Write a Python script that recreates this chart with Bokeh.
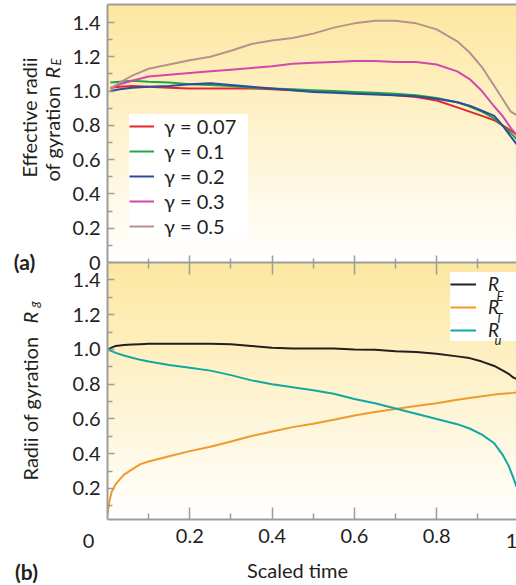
import numpy as np
from bokeh.plotting import figure
from bokeh.models import (Range1d, LinearAxis, FixedTicker, Legend, LegendItem,
                          Label, PrintfTickFormatter, CustomLabelingPolicy)
from bokeh.layouts import column
from bokeh.embed import file_html
from bokeh.resources import INLINE

FONT = "Lato"
TXT = "#231F20"
AX = "#9D9D9D"

# ---------------- data: panel (a) ----------------
x_a = [0.007, 0.03, 0.06, 0.1, 0.15, 0.2, 0.25, 0.3, 0.35, 0.4, 0.45, 0.5, 0.55,
       0.6, 0.65, 0.7, 0.75, 0.8, 0.85, 0.88, 0.91, 0.94, 0.96, 0.98, 0.994]
re_g007 = [1.02, 1.025, 1.03, 1.025, 1.02, 1.015, 1.015, 1.015, 1.015, 1.01, 1.005, 1.0, 0.995,
           0.99, 0.985, 0.975, 0.965, 0.945, 0.905, 0.88, 0.855, 0.83, 0.80, 0.77, 0.745]
re_g01 = [1.05, 1.055, 1.06, 1.055, 1.05, 1.04, 1.035, 1.03, 1.02, 1.015, 1.01, 1.005, 1.0,
          0.995, 0.99, 0.985, 0.975, 0.96, 0.935, 0.91, 0.88, 0.84, 0.80, 0.755, 0.72]
re_g02 = [1.0, 1.01, 1.02, 1.025, 1.03, 1.04, 1.045, 1.035, 1.025, 1.015, 1.005, 0.995, 0.99,
          0.985, 0.98, 0.975, 0.97, 0.955, 0.935, 0.915, 0.885, 0.855, 0.80, 0.735, 0.69]
re_g03 = [1.015, 1.04, 1.06, 1.085, 1.095, 1.105, 1.115, 1.125, 1.135, 1.145, 1.16, 1.165, 1.17,
          1.175, 1.175, 1.17, 1.17, 1.155, 1.115, 1.07, 1.0, 0.91, 0.855, 0.785, 0.745]
re_g05 = [1.015, 1.05, 1.09, 1.13, 1.155, 1.18, 1.20, 1.235, 1.275, 1.295, 1.31, 1.335, 1.37,
          1.395, 1.41, 1.41, 1.395, 1.36, 1.29, 1.225, 1.14, 1.03, 0.955, 0.88, 0.86]
gamma_labels = ["γ = 0.07", "γ = 0.1", "γ = 0.2", "γ = 0.3", "γ = 0.5"]
gamma_colors = ["#E4262C", "#1DA64A", "#2B4C9B", "#D447AE", "#B8918F"]

# ---------------- data: panel (b) ----------------
x_b = [0, 0.005, 0.01, 0.02, 0.04, 0.06, 0.08, 0.1, 0.15, 0.2, 0.25, 0.3, 0.35, 0.4, 0.45,
       0.5, 0.55, 0.6, 0.65, 0.7, 0.75, 0.8, 0.85, 0.88, 0.91, 0.94, 0.96, 0.975, 0.985, 0.994]
r_E = [1.0, 1.005, 1.01, 1.02, 1.025, 1.028, 1.03, 1.032, 1.033, 1.033, 1.033, 1.03, 1.02, 1.01,
       1.005, 1.005, 1.005, 1.0, 0.998, 0.99, 0.985, 0.975, 0.96, 0.95, 0.93, 0.905, 0.88, 0.86,
       0.84, 0.83]
r_T = [0.05, 0.13, 0.18, 0.225, 0.28, 0.31, 0.34, 0.355, 0.385, 0.415, 0.44, 0.47, 0.502, 0.528,
       0.553, 0.572, 0.596, 0.62, 0.64, 0.657, 0.675, 0.69, 0.71, 0.72, 0.73, 0.74, 0.745, 0.748,
       0.75, 0.752]
r_u = [1.0, 0.995, 0.99, 0.98, 0.965, 0.952, 0.94, 0.93, 0.91, 0.895, 0.878, 0.852, 0.822, 0.80,
       0.782, 0.765, 0.745, 0.715, 0.69, 0.66, 0.63, 0.60, 0.57, 0.545, 0.51, 0.46, 0.395, 0.33,
       0.27, 0.21]
rg_labels = ["R", "R", "R"]
rg_subs = ["E", "T", "u"]
rg_colors = ["#231F20", "#EE9B2A", "#10A9A0"]

# ---------------- ticks ----------------
y_ticks_a = [0, 0.2, 0.4, 0.6, 0.8, 1.0, 1.2, 1.4]
y_minor_a = [0.1, 0.3, 0.5, 0.7, 0.9, 1.1, 1.3]
y_ticks_b = [0.2, 0.4, 0.6, 0.8, 1.0, 1.2, 1.4]
y_minor_b = [0.1, 0.3, 0.5, 0.7, 0.9, 1.1, 1.3]
x_ticks = [0.2, 0.4, 0.6, 0.8]
x_minor = [0.1, 0.3, 0.5, 0.7, 0.9]

# ---------------- layout constants (pixels) ----------------
W, H = 516, 585
FL = 107           # frame left
XMAX = 0.994
A_EXTRA = 12       # canvas of (a) extends below its frame
B_TOP = 8          # border above frame (b) for the outward ticks
HIDE = CustomLabelingPolicy(
    code="try { for (const i of [...indices]) indices.unset(i) } catch (e) {} return indices")


def gradient(n=256, top=(253, 231, 160), bot=(255, 255, 255)):
    t = np.linspace(0.0, 1.0, n)[:, None]
    rgb = np.array(bot)[None, :] * (1 - t) + np.array(top)[None, :] * t
    img = np.empty((n, 1), dtype=np.uint32)
    v = img.view(dtype=np.uint8).reshape((n, 1, 4))
    v[:, 0, 0:3] = np.round(rgb).astype(np.uint8)
    v[:, 0, 3] = 255
    return img


def style_axis(ax, major_in, minor_in, major_out=0, minor_out=0):
    ax.axis_line_color = AX
    ax.axis_line_width = 2
    ax.major_tick_line_color = AX
    ax.minor_tick_line_color = AX
    ax.major_tick_line_width = 1.5
    ax.minor_tick_line_width = 1.5
    ax.major_tick_in = major_in
    ax.major_tick_out = major_out
    ax.minor_tick_in = minor_in
    ax.minor_tick_out = minor_out
    ax.major_label_text_font = FONT
    ax.major_label_text_font_size = "20px"
    ax.major_label_text_color = TXT


# ================= panel (a) =================
p1 = figure(width=W, height=4 + 258 + A_EXTRA, x_range=Range1d(0, XMAX),
            y_range=Range1d(0, 1.505), output_backend="svg", toolbar_location=None,
            x_axis_location=None, y_axis_location="left",
            min_border_left=FL, min_border_right=0, min_border_top=4,
            min_border_bottom=A_EXTRA)
p1.grid.visible = False
p1.outline_line_color = None
p1.background_fill_color = None
p1.image_rgba(image=[gradient()], x=0, y=p1.y_range.start, dw=XMAX,
              dh=p1.y_range.end - p1.y_range.start)
ya = p1.yaxis[0]
ya.ticker = FixedTicker(ticks=y_ticks_a, minor_ticks=y_minor_a)
ya.formatter = PrintfTickFormatter(format="%.1f")
ya.major_label_overrides = {0: "0"}
style_axis(ya, 7, 5)
ya.major_label_standoff = 7
top_ax = LinearAxis(ticker=FixedTicker(ticks=[]))
style_axis(top_ax, 0, 0)
top_ax.major_label_standoff = 0
p1.add_layout(top_ax, "above")

series_a = [re_g007, re_g01, re_g02, re_g03, re_g05]
items = []
for ys, c, name in zip(series_a, gamma_colors, gamma_labels):
    r = p1.line(x_a, ys, line_color=c, line_width=2)
    items.append(LegendItem(label=name, renderers=[r]))
leg1 = Legend(items=items, location=(22, 24), label_text_font=FONT,
              label_text_font_size="20px", label_text_color=TXT,
              glyph_width=25, glyph_height=24, label_height=24, label_width=84,
              spacing=1, padding=9, label_standoff=10, background_fill_color="white",
              background_fill_alpha=1.0, border_line_color=None, margin=0)
p1.add_layout(leg1)

# ================= panel (b) =================
p2 = figure(width=W, height=B_TOP + 257 + 66, x_range=p1.x_range,
            y_range=Range1d(0.0216, 1.5), output_backend="svg", toolbar_location=None,
            x_axis_location=None, y_axis_location="left",
            min_border_left=FL, min_border_right=0, min_border_top=B_TOP,
            min_border_bottom=66, margin=(-(A_EXTRA + B_TOP), 0, 0, 0))
p2.grid.visible = False
p2.outline_line_color = None
p2.background_fill_color = None
p2.border_fill_color = None
p2.image_rgba(image=[gradient()], x=0, y=p2.y_range.start, dw=XMAX,
              dh=p2.y_range.end - p2.y_range.start)
yb = p2.yaxis[0]
yb.ticker = FixedTicker(ticks=y_ticks_b, minor_ticks=y_minor_b)
yb.formatter = PrintfTickFormatter(format="%.1f")
style_axis(yb, 7, 5)
yb.major_label_standoff = 7

mid_ax = LinearAxis(ticker=FixedTicker(ticks=x_ticks, minor_ticks=x_minor),
                    major_label_policy=HIDE)
style_axis(mid_ax, 12, 6, major_out=7, minor_out=4)
mid_ax.major_label_text_font_size = "0px"
mid_ax.major_label_standoff = 0
p2.add_layout(mid_ax, "above")

xb = LinearAxis(ticker=FixedTicker(ticks=x_ticks, minor_ticks=x_minor),
                formatter=PrintfTickFormatter(format="%.1f"))
style_axis(xb, 12, 6)
xb.major_label_standoff = 9
p2.add_layout(xb, "below")

items2 = []
for ys, c, name in zip([r_E, r_T, r_u], rg_colors, rg_labels):
    r = p2.line(x_b, ys, line_color=c, line_width=2)
    items2.append(LegendItem(label=name, renderers=[r]))
leg2 = Legend(items=items2, location=(343, 178), label_text_font=FONT,
              label_text_font_size="19px", label_text_font_style="italic",
              label_text_color=TXT, glyph_width=26, glyph_height=20, label_height=20,
              label_width=33, spacing=0, padding=2, label_standoff=12,
              background_fill_color="white", background_fill_alpha=1.0,
              border_line_color=None, margin=0)
p2.add_layout(leg2)

# ================= overlay with the texts outside the frames =================
ov = figure(width=W, height=H, x_range=Range1d(0, W), y_range=Range1d(0, H),
            output_backend="svg", toolbar_location=None,
            x_axis_location=None, y_axis_location=None, min_border=0,
            min_border_left=0, min_border_right=0, min_border_top=0,
            min_border_bottom=0, margin=(-H, 0, 0, 0))
ov.grid.visible = False
ov.outline_line_color = None
ov.background_fill_color = None
ov.border_fill_color = None


def lab(text, X, Y, size="20px", style="normal", align="center",
        baseline="middle", angle=0.0, color=TXT):
    ov.add_layout(Label(x=X, y=H - Y, x_units="screen", y_units="screen",
                        text=text, text_font=FONT, text_font_size=size,
                        text_font_style=style, text_align=align,
                        text_baseline=baseline, angle=angle, text_color=color))


VERT = np.pi / 2
lab("Effective radii", 28, 117, size="20px", baseline="alphabetic", angle=VERT)
lab("of gyration", 51, 181, size="20px", align="left", baseline="alphabetic", angle=VERT)
lab("R", 51, 78, size="20px", style="italic", align="left", baseline="alphabetic", angle=VERT)
lab("E", 55, 65, size="13px", style="italic", align="left", baseline="alphabetic", angle=VERT)
lab("(a)", 24, 261, size="21px", style="bold")

lab("Radii of gyration", 29, 480, size="20px", align="left", baseline="alphabetic", angle=VERT)
lab("R", 29, 323, size="20px", style="italic", align="left", baseline="alphabetic", angle=VERT)
lab("g", 33, 307, size="13px", style="italic", align="left", baseline="alphabetic", angle=VERT)

for sub, (X, Y) in zip(rg_subs, [(496, 295), (495, 317), (494, 339)]):
    lab(sub, X, Y, size="13px", style="italic", align="left", baseline="alphabetic")

lab("0", 88, 540)
lab("1", 511, 540)
lab("Scaled time", 297, 569)
lab("(b)", 26, 571, size="21px", style="bold")

try:
    ov.frame_align = False
    roots = column(p1, p2, ov, spacing=0)
except Exception:
    roots = [column(p1, p2, spacing=0), ov]

open("out.html", "w").write(file_html(roots, INLINE))
